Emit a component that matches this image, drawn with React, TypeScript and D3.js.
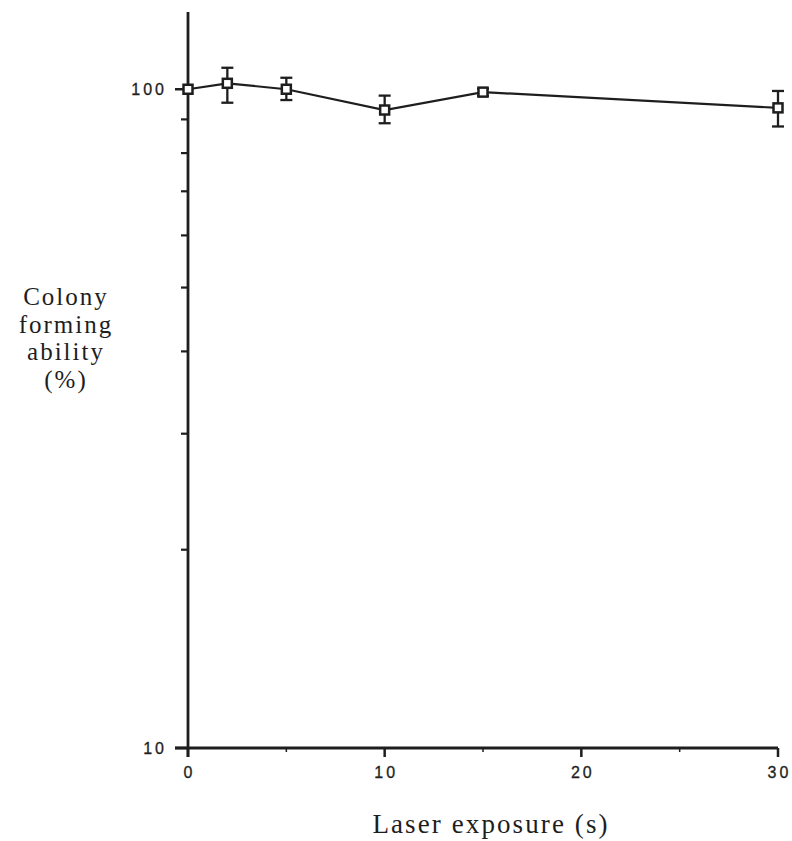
import React from "react";
import * as d3 from "d3";

const exposure = [0, 2, 5, 10, 15, 30];
const colony = [100, 102.1, 100, 93.0, 99.0, 93.7];
const errHigh = [100, 107.8, 104.1, 97.8, 100.2, 99.4];
const errLow = [100, 95.4, 96.3, 88.8, 97.8, 87.8];
const xMajorTicks = [0, 10, 20, 30];
const xMinorTicks = [5, 15, 25];
const yMajorTicks = [10, 100];
const yMinorTicks = [20, 30, 40, 50, 60, 70, 80, 90];
const yTitleLines = ["Colony", "forming", "ability", "(%)"];

export default function App() {
  const W = 792, H = 841;
  const x = d3.scaleLinear().domain([0, 30]).range([188, 778]);
  const y = d3.scaleLog().domain([10, 131]).range([748, 12]);
  const ink = "#1e1e1e";
  const line = d3
    .line<number>()
    .x((_, i) => x(exposure[i]))
    .y((d) => y(d))
    .curve(d3.curveLinear);
  const x0 = x(0);
  const yBase = y(10);
  const sans = "Liberation Sans, Arial, sans-serif";
  const serif = "Liberation Serif, Times New Roman, serif";
  return (
    <svg width={W} height={H} style={{ position: "absolute", left: 0, top: 0, background: "#fff" }}>
      {/* axes */}
      <line x1={x0} x2={x0} y1={12} y2={yBase + 9} stroke={ink} strokeWidth={2.8} />
      <line x1={x0 - 13} x2={x(30)} y1={yBase} y2={yBase} stroke={ink} strokeWidth={2.8} />
      {yMajorTicks.map((t) => (
        <g key={"ym" + t}>
          <line x1={x0 - 13} x2={x0} y1={y(t)} y2={y(t)} stroke={ink} strokeWidth={2.5} />
          <text x={167} y={y(t)} dy="0.36em" textAnchor="end" fontFamily={sans} fontSize={16} letterSpacing={3} fill={ink} stroke={ink} strokeWidth={0.3}>
            {t}
          </text>
        </g>
      ))}
      {yMinorTicks.map((t) => (
        <line key={"yn" + t} x1={x0 - 7} x2={x0} y1={y(t)} y2={y(t)} stroke={ink} strokeWidth={2.2} />
      ))}
      {xMajorTicks.map((t) => (
        <g key={"xm" + t}>
          <line x1={x(t)} x2={x(t)} y1={yBase} y2={yBase + 9} stroke={ink} strokeWidth={2.5} />
          <text x={x(t) + 1.5} y={772} dy="0.36em" textAnchor="middle" fontFamily={sans} fontSize={16} letterSpacing={3} fill={ink} stroke={ink} strokeWidth={0.3}>
            {t}
          </text>
        </g>
      ))}
      {xMinorTicks.map((t) => (
        <line key={"xn" + t} x1={x(t)} x2={x(t)} y1={yBase} y2={yBase + 4} stroke={ink} strokeWidth={1.5} />
      ))}
      {/* line */}
      <path d={line(colony) || ""} fill="none" stroke={ink} strokeWidth={2.2} />
      {/* error bars */}
      {exposure.map((e, i) =>
        errHigh[i] !== errLow[i] ? (
          <g key={"e" + i} stroke={ink} strokeWidth={2.3}>
            <line x1={x(e)} x2={x(e)} y1={y(errHigh[i])} y2={y(errLow[i])} />
            <line x1={x(e) - 6} x2={x(e) + 6} y1={y(errHigh[i])} y2={y(errHigh[i])} />
            <line x1={x(e) - 6} x2={x(e) + 6} y1={y(errLow[i])} y2={y(errLow[i])} />
          </g>
        ) : null
      )}
      {/* markers */}
      {exposure.map((e, i) => (
        <rect key={"m" + i} x={x(e) - 4.5} y={y(colony[i]) - 4.5} width={9} height={9} fill="#fff" stroke={ink} strokeWidth={2.5} />
      ))}
      {/* titles */}
      <text fontFamily={serif} fontSize={25} fill={ink} textAnchor="middle" letterSpacing={2}>
        {yTitleLines.map((l, i) => (
          <tspan key={l} x={66} y={305 + i * 27.5}>
            {l}
          </tspan>
        ))}
      </text>
      <text x={491} y={833} fontFamily={serif} fontSize={27} fill={ink} textAnchor="middle" letterSpacing={2.1}>
        Laser exposure (s)
      </text>
    </svg>
  );
}
